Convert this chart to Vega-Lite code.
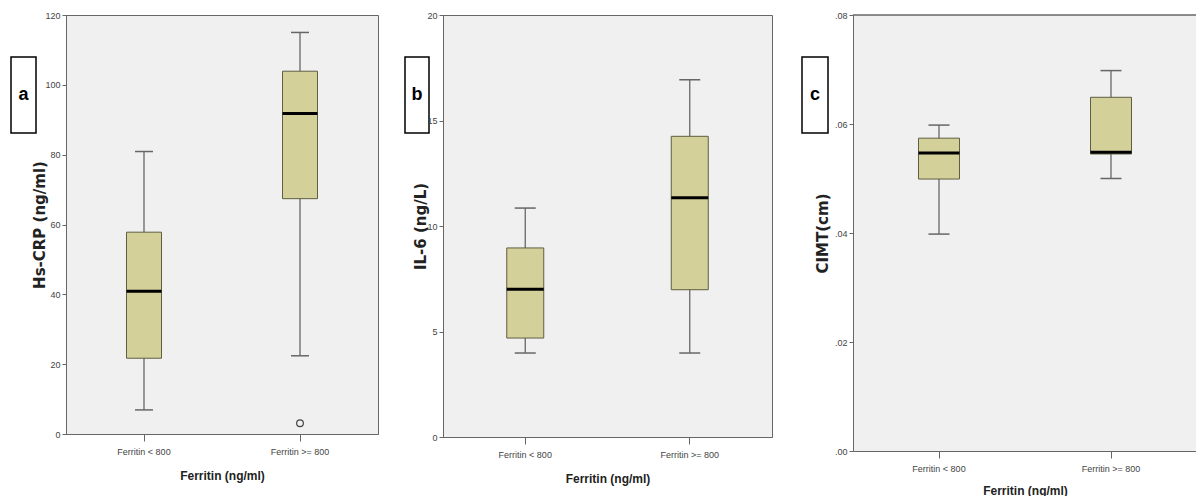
{
  "$schema": "https://vega.github.io/schema/vega-lite/v6.json",
  "padding": {"left": 10, "top": 10, "right": 0, "bottom": 0},
  "background": "white",
  "config": {
    "view": {"fill": "#F0F0F0", "stroke": "#666666", "strokeWidth": 1},
    "axis": {
      "grid": false,
      "labelFont": "Liberation Sans, Arial, sans-serif",
      "labelFontSize": 9,
      "labelColor": "#444444",
      "domainColor": "#666666",
      "tickColor": "#666666",
      "titleColor": "#222222"
    },
    "axisX": {
      "labelAngle": 0,
      "tickSize": 7,
      "labelPadding": 6,
      "titlePadding": 14,
      "titleFont": "Liberation Sans, Arial, sans-serif",
      "titleFontSize": 12,
      "titleFontWeight": "bold"
    },
    "axisY": {
      "tickSize": 4,
      "labelPadding": 2,
      "titlePadding": -3,
      "titleFont": "DejaVu Sans, sans-serif",
      "titleFontSize": 15,
      "titleFontWeight": "bold"
    }
  },
  "spacing": 25,
  "hconcat": [
    {
      "spacing": -5,
      "hconcat": [
        {
          "width": 25,
          "height": 118,
          "view": {"fill": null, "stroke": null},
          "data": {"values": [{"label": "a"}]},
          "encoding": {"y": {"field": "label", "type": "nominal", "scale": {"type": "band", "paddingInner": 0, "paddingOuter": 0.276, "align": 1}, "axis": null}},
          "layer": [
            {"mark": {"type": "rect", "fill": "white", "stroke": "black", "strokeWidth": 1.5}},
            {"mark": {"type": "text", "fontSize": 18, "fontWeight": "bold", "font": "Liberation Sans, Arial, sans-serif", "color": "black"},
             "encoding": {"text": {"field": "label"}}}
          ]
        },
        {
          "width": 312,
          "height": 419,
          "data": {"values": [
            {"group": "Ferritin < 800", "lower": 6.9, "q1": 21.7, "median": 40.9, "q3": 57.8, "upper": 80.9, "outlier": null},
            {"group": "Ferritin >= 800", "lower": 22.4, "q1": 67.4, "median": 91.8, "q3": 103.9, "upper": 115.0, "outlier": 3.1}
          ]},
          "encoding": {
            "x": {"field": "group", "type": "nominal", "sort": null, "scale": {"type": "band", "paddingInner": 0.5, "paddingOuter": 0.25}, "axis": {"title": "Ferritin (ng/ml)"}}
          },
          "layer": [
            {"mark": {"type": "rule", "color": "#666666", "strokeWidth": 1.3},
             "encoding": {"y": {"field": "lower", "type": "quantitative", "scale": {"domain": [0, 120], "nice": false}, "axis": {"title": "Hs-CRP (ng/ml)", "values": [0, 20, 40, 60, 80, 100, 120]}}, "y2": {"field": "upper"}}},
            {"mark": {"type": "bar", "size": 35, "fill": "#D4D09A", "stroke": "#5E5E40", "strokeWidth": 1},
             "encoding": {"y": {"field": "q1", "type": "quantitative"}, "y2": {"field": "q3"}}},
            {"mark": {"type": "tick", "size": 35, "thickness": 3, "color": "black", "opacity": 1},
             "encoding": {"y": {"field": "median", "type": "quantitative"}}},
            {"mark": {"type": "tick", "size": 18, "thickness": 1.5, "color": "#666666", "opacity": 1},
             "encoding": {"y": {"field": "lower", "type": "quantitative"}}},
            {"mark": {"type": "tick", "size": 18, "thickness": 1.5, "color": "#666666", "opacity": 1},
             "encoding": {"y": {"field": "upper", "type": "quantitative"}}},
            {"mark": {"type": "point", "shape": "circle", "filled": false, "size": 45, "stroke": "#444444", "strokeWidth": 1.2, "opacity": 1},
             "encoding": {"y": {"field": "outlier", "type": "quantitative"}}}
          ]
        }
      ]
    },
    {
      "spacing": 28,
      "hconcat": [
        {
          "spacing": -17,
          "hconcat": [
            {
              "width": 24,
              "height": 118,
              "view": {"fill": null, "stroke": null},
              "data": {"values": [{"label": "b"}]},
              "encoding": {"y": {"field": "label", "type": "nominal", "scale": {"type": "band", "paddingInner": 0, "paddingOuter": 0.276, "align": 1}, "axis": null}},
              "layer": [
                {"mark": {"type": "rect", "fill": "white", "stroke": "black", "strokeWidth": 1.5}},
                {"mark": {"type": "text", "fontSize": 18, "fontWeight": "bold", "font": "Liberation Sans, Arial, sans-serif", "color": "black"},
                 "encoding": {"text": {"field": "label"}}}
              ]
            },
            {
              "width": 329,
              "height": 422,
              "data": {"values": [
                {"group": "Ferritin < 800", "lower": 3.98, "q1": 4.69, "median": 7.0, "q3": 8.96, "upper": 10.85},
                {"group": "Ferritin >= 800", "lower": 3.98, "q1": 6.98, "median": 11.34, "q3": 14.25, "upper": 16.93}
              ]},
              "encoding": {
                "x": {"field": "group", "type": "nominal", "sort": null, "scale": {"type": "band", "paddingInner": 0.5, "paddingOuter": 0.25}, "axis": {"title": "Ferritin (ng/ml)"}}
              },
              "layer": [
                {"mark": {"type": "rule", "color": "#666666", "strokeWidth": 1.3},
                 "encoding": {"y": {"field": "lower", "type": "quantitative", "scale": {"domain": [0, 20], "nice": false}, "axis": {"title": "IL-6 (ng/L)", "titlePadding": -2, "values": [0, 5, 10, 15, 20]}}, "y2": {"field": "upper"}}},
                {"mark": {"type": "bar", "size": 37, "fill": "#D4D09A", "stroke": "#5E5E40", "strokeWidth": 1},
                 "encoding": {"y": {"field": "q1", "type": "quantitative"}, "y2": {"field": "q3"}}},
                {"mark": {"type": "tick", "size": 37, "thickness": 3, "color": "black", "opacity": 1},
                 "encoding": {"y": {"field": "median", "type": "quantitative"}}},
                {"mark": {"type": "tick", "size": 21, "thickness": 1.5, "color": "#666666", "opacity": 1},
                 "encoding": {"y": {"field": "lower", "type": "quantitative"}}},
                {"mark": {"type": "tick", "size": 21, "thickness": 1.5, "color": "#666666", "opacity": 1},
                 "encoding": {"y": {"field": "upper", "type": "quantitative"}}}
              ]
            }
          ]
        },
        {
          "spacing": -14,
          "hconcat": [
            {
              "width": 26,
              "height": 118,
              "view": {"fill": null, "stroke": null},
              "data": {"values": [{"label": "c"}]},
              "encoding": {"y": {"field": "label", "type": "nominal", "scale": {"type": "band", "paddingInner": 0, "paddingOuter": 0.276, "align": 1}, "axis": null}},
              "layer": [
                {"mark": {"type": "rect", "fill": "white", "stroke": "black", "strokeWidth": 1.5}},
                {"mark": {"type": "text", "fontSize": 18, "fontWeight": "bold", "font": "Liberation Sans, Arial, sans-serif", "color": "black"},
                 "encoding": {"text": {"field": "label"}}}
              ]
            },
            {
              "width": 344,
              "height": 436,
              "view": {"fill": "#F0F0F0", "stroke": null},
              "data": {"values": [
                {"group": "Ferritin < 800", "lower": 0.0398, "q1": 0.0499, "median": 0.0547, "q3": 0.0574, "upper": 0.0598},
                {"group": "Ferritin >= 800", "lower": 0.05, "q1": 0.0545, "median": 0.0548, "q3": 0.0649, "upper": 0.0698}
              ]},
              "encoding": {
                "x": {"field": "group", "type": "nominal", "sort": null, "scale": {"type": "band", "paddingInner": 0.5, "paddingOuter": 0.25}, "axis": {"title": "Ferritin (ng/ml)", "titlePadding": 12}}
              },
              "layer": [
                {"mark": {"type": "rule", "color": "#666666", "strokeWidth": 1},
                 "encoding": {"y": {"datum": 0.08, "type": "quantitative"}, "x": null}},
                {"mark": {"type": "rule", "color": "#666666", "strokeWidth": 1.3},
                 "encoding": {"y": {"field": "lower", "type": "quantitative", "scale": {"domain": [0, 0.08], "nice": false}, "axis": {"title": "CIMT(cm)", "titlePadding": 3.5, "values": [0, 0.02, 0.04, 0.06, 0.08], "labelExpr": "replace(format(datum.value, '.2f'), '0.', '.')"}}, "y2": {"field": "upper"}}},
                {"mark": {"type": "bar", "size": 41, "fill": "#D4D09A", "stroke": "#5E5E40", "strokeWidth": 1},
                 "encoding": {"y": {"field": "q1", "type": "quantitative"}, "y2": {"field": "q3"}}},
                {"mark": {"type": "tick", "size": 41, "thickness": 3, "color": "black", "opacity": 1},
                 "encoding": {"y": {"field": "median", "type": "quantitative"}}},
                {"mark": {"type": "tick", "size": 21, "thickness": 1.5, "color": "#666666", "opacity": 1},
                 "encoding": {"y": {"field": "lower", "type": "quantitative"}}},
                {"mark": {"type": "tick", "size": 21, "thickness": 1.5, "color": "#666666", "opacity": 1},
                 "encoding": {"y": {"field": "upper", "type": "quantitative"}}}
              ]
            }
          ]
        }
      ]
    }
  ]
}
